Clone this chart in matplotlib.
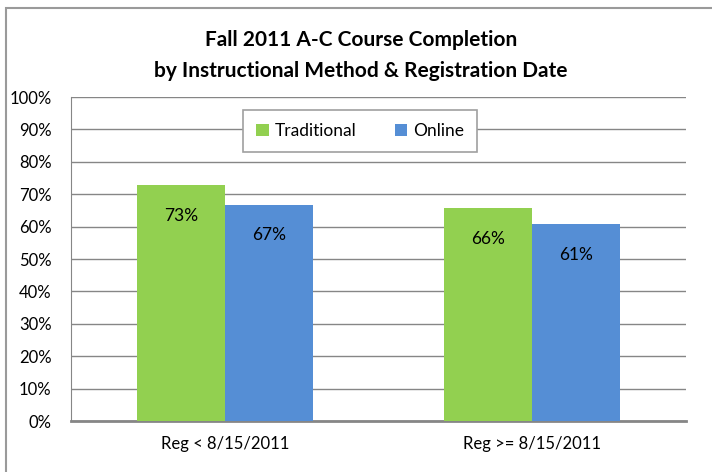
import numpy as np
import matplotlib.pyplot as plt
from matplotlib.patches import Rectangle
from matplotlib.ticker import PercentFormatter

plt.rcParams['font.family'] = ['Lato', 'DejaVu Sans']

categories = ['Reg < 8/15/2011', 'Reg >= 8/15/2011']
traditional = [0.728, 0.656]
online = [0.668, 0.607]
series_names = ['Traditional', 'Online']
colors = ['#92D050', '#558ED5']

fig = plt.figure(figsize=(7.12, 4.72), dpi=100)
# outer chart border (cut off on right/bottom like the screenshot)
fig.patches.append(Rectangle((6 / 712, -0.1), 1.2, 1 - 8 / 472 + 0.1,
                             transform=fig.transFigure, fill=False,
                             edgecolor='#9a9a9a', linewidth=1.5))

ax = fig.add_axes([71 / 712, 1 - 421 / 472, 615 / 712, 324 / 472])

x = np.arange(len(categories))
w = 0.286
b1 = ax.bar(x - w / 2, traditional, w, color=colors[0], label=series_names[0], zorder=3)
b2 = ax.bar(x + w / 2, online, w, color=colors[1], label=series_names[1], zorder=3)

for bars in (b1, b2):
    for r in bars:
        h = r.get_height()
        ax.text(r.get_x() + r.get_width() / 2, h - 0.095, f'{h * 100:.0f}%',
                ha='center', va='center', fontsize=12.5, zorder=4)

ax.set_xlim(-0.5, 1.5)
ax.set_ylim(0, 1)
ax.set_yticks(np.arange(0, 1.01, 0.1))
ax.yaxis.set_major_formatter(PercentFormatter(1.0, decimals=0))
ax.set_xticks(x)
ax.set_xticklabels(categories)
ax.tick_params(axis='both', length=0, labelsize=12)
ax.tick_params(axis='y', pad=14)
ax.tick_params(axis='x', pad=11)
ax.grid(axis='y', color='#868686', linewidth=1, zorder=0)
for s in ['top', 'right']:
    ax.spines[s].set_visible(False)
for s in ['left', 'bottom']:
    ax.spines[s].set_color('#868686')
ax.spines['bottom'].set_linewidth(2)

leg = ax.legend(loc='center', bbox_to_anchor=(0.47, 0.895), ncol=2, fontsize=12.5,
                frameon=True, fancybox=False, edgecolor='#a0a0a0', framealpha=1,
                handlelength=0.7, handleheight=0.7, columnspacing=2.2,
                borderpad=0.75, handletextpad=0.35, borderaxespad=0)
leg.get_frame().set_linewidth(1.2)
leg.set_zorder(5)

fig.text(361 / 712, 1 - 40 / 472, 'Fall 2011 A-C Course Completion', ha='center',
         va='center', fontsize=15, fontweight='bold')
fig.text(361 / 712, 1 - 71 / 472, 'by Instructional Method & Registration Date', ha='center',
         va='center', fontsize=15, fontweight='bold')

fig.savefig('out.png', dpi=100)
